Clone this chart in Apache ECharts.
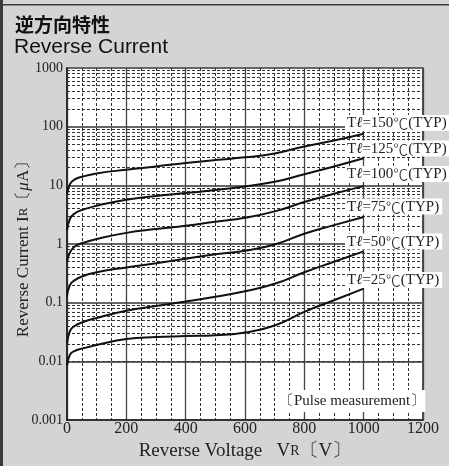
<!DOCTYPE html>
<html><head><meta charset="utf-8">
<script src="https://cdn.jsdelivr.net/npm/echarts@6/dist/echarts.min.js"></script>
<style>html,body{margin:0;padding:0;background:#d3d4d5;}#c{width:449px;height:466px;}</style>
</head><body><div id="c"></div>
<script>
// ---- data ----
const voltages = [0, 10, 25, 50, 100, 200, 300, 400, 500, 600, 700, 800, 900, 1000];
const temps = ['150', '125', '100', '75', '50', '25'];
const ir150 = [7, 10.5, 12.5, 14, 16, 18.5, 21, 24, 27, 30, 35, 46, 58, 76];
const ir125 = [1.7, 2.7, 3.3, 3.8, 4.5, 5.7, 6.6, 7.4, 8.3, 9.6, 11.5, 15.5, 21, 29];
const ir100 = [0.5, 0.72, 0.9, 1.03, 1.22, 1.55, 1.8, 2.05, 2.4, 2.8, 3.6, 5.2, 7.2, 9.7];
const ir75 = [0.13, 0.2, 0.24, 0.28, 0.33, 0.40, 0.47, 0.56, 0.67, 0.77, 0.98, 1.5, 2.1, 2.9];
const ir50 = [0.02, 0.033, 0.04, 0.046, 0.055, 0.073, 0.088, 0.105, 0.127, 0.157, 0.21, 0.33, 0.5, 0.75];
const ir25 = [0.0085, 0.013, 0.015, 0.0165, 0.019, 0.024, 0.026, 0.027, 0.028, 0.031, 0.041, 0.07, 0.11, 0.174];
const yTickLabels = ['0.001', '0.01', '0.1', '1', '10', '100', '1000'];
const xTickLabels = ['0', '200', '400', '600', '800', '1000', '1200'];
const minorFactors = [2, 3, 4, 5, 6, 7, 8, 9];
const decades = [0.001, 0.01, 0.1, 1, 10, 100];
// ---------------

const allCurves = [ir150, ir125, ir100, ir75, ir50, ir25];
const chart = echarts.init(document.getElementById('c'), null, {renderer: 'canvas'});
const serif = '"Liberation Serif", "DejaVu Serif", serif';

const minorVals = [];
decades.forEach(d => minorFactors.forEach(f => minorVals.push(+(d * f).toPrecision(3))));

const series = [{
  type: 'line', data: [], z: 1, silent: true,
  markLine: {
    silent: true, symbol: 'none', animation: false,
    label: {show: false},
    lineStyle: {type: [3, 2], color: '#333', width: 1},
    data: minorVals.map(v => ({yAxis: v}))
  }
}];
allCurves.forEach((arr, i) => {
  series.push({
    type: 'line', name: temps[i], z: 5, smooth: 0.5, showSymbol: false, symbol: 'none',
    lineStyle: {color: '#111', width: 2},
    data: voltages.map((v, k) => [v, arr[k]])
  });
});

const labelRich = {
  l: {fontFamily: serif, fontSize: 15, fontStyle: 'italic', fill: '#222'},
  c: {fontFamily: '"Noto Sans CJK JP"', fontSize: 15, fontWeight: 300, fill: '#222'}
};
const labelY = [123, 148.5, 174, 206.5, 241.5, 280];
const graphics = [
  {type: 'rect', shape: {x: 0, y: 0, width: 3, height: 466}, style: {fill: '#3a3a3a'}, z: 100},
  {type: 'rect', shape: {x: 0, y: 4, width: 449, height: 1.5}, style: {fill: '#3a3a3a'}, z: 100},
  {type: 'text', x: 15, y: 25, style: {text: '逆方向特性', font: 'bold 19px "Noto Sans CJK JP"', fill: '#111', verticalAlign: 'middle'}},
  {type: 'text', x: 14, y: 47, style: {text: 'Reverse Current', font: '21px "Liberation Sans", Arial, sans-serif', fill: '#111', verticalAlign: 'middle'}},
  {type: 'text', x: 24, y: 245, rotation: Math.PI / 2, z: 50, style: {
    text: 'Reverse Current I{s|R}〔{i|μ}A〕', font: '17px ' + serif, fill: '#222',
    align: 'center', verticalAlign: 'middle',
    rich: {s: {fontFamily: serif, fontSize: 13, fill: '#222'}, i: {fontFamily: serif, fontSize: 17, fontStyle: 'italic', fill: '#222'}}}},
  {type: 'text', x: 279, y: 401, z: 50, style: {
    text: '〔Pulse measurement〕', font: '15px ' + serif, fill: '#222',
    verticalAlign: 'middle', backgroundColor: '#fff', padding: [4, 0, 3, 0]}}
];
temps.forEach((t, i) => {
  graphics.push({type: 'text', x: 345, y: labelY[i], z: 50, style: {
    text: 'T{l|\u2113}=' + t + '{c|℃}(TYP)', font: '15px ' + serif, fill: '#222',
    verticalAlign: 'middle', backgroundColor: '#fff', padding: [1, 3, 0, 2], rich: labelRich}});
});

chart.setOption({
  animation: false,
  backgroundColor: '#d3d4d5',
  grid: {left: 67, right: 26, top: 68, bottom: 41, show: true, backgroundColor: '#fff', borderColor: '#222', borderWidth: 1.5},
  xAxis: {
    type: 'value', min: 0, max: 1200, interval: 200,
    name: 'Reverse Voltage   V{s|R}〔V〕', nameLocation: 'middle', nameGap: 21,
    nameTextStyle: {fontFamily: serif, fontSize: 19, color: '#222', rich: {s: {fontFamily: serif, fontSize: 14, color: '#222'}}},
    axisLine: {show: true, lineStyle: {color: '#222', width: 1.5}},
    axisTick: {show: false},
    axisLabel: {fontFamily: serif, fontSize: 16, color: '#222', margin: 1,
      formatter: v => xTickLabels[Math.round(v / 200)]},
    splitLine: {show: true, lineStyle: {color: '#444', width: 1.3}},
    minorTick: {show: false, splitNumber: 4},
    minorSplitLine: {show: true, lineStyle: {color: '#333', width: 1, type: [3, 2]}}
  },
  yAxis: {
    type: 'log', logBase: 10, min: 0.001, max: 1000,
    axisLine: {show: true, lineStyle: {color: '#222', width: 1.5}},
    axisTick: {show: false},
    axisLabel: {fontFamily: serif, fontSize: 14, color: '#222', margin: 4,
      formatter: v => yTickLabels[Math.round(Math.log10(v)) + 3]},
    splitLine: {show: true, lineStyle: {color: '#666', width: 2}}
  },
  graphic: graphics,
  series: series
});
</script></body></html>
